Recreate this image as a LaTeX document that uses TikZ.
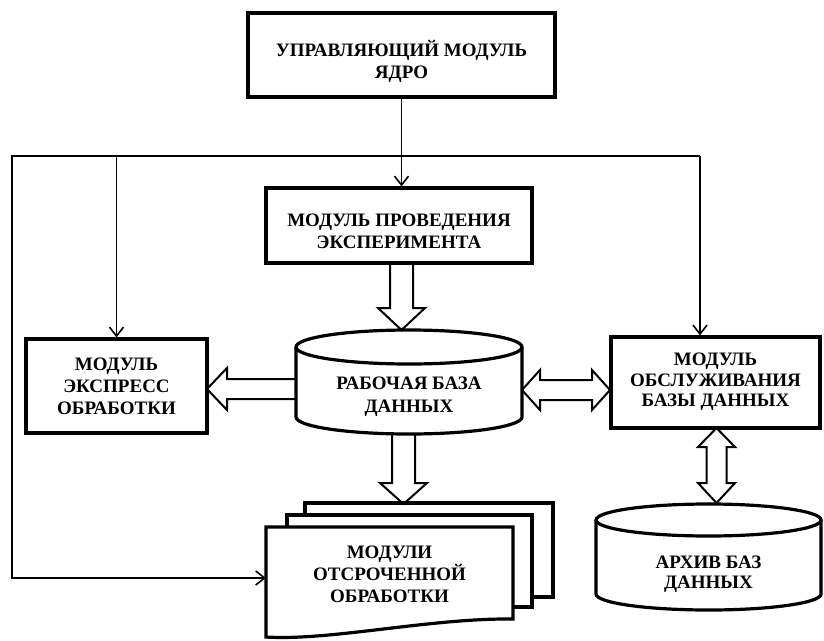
\documentclass[tikz,border=0pt]{standalone}
\usepackage{fontspec}
\setmainfont{Liberation Serif}
\usetikzlibrary{arrows.meta}
\begin{document}
\begin{tikzpicture}[x=1pt,y=1pt,
  box/.style={draw, line width=3.2pt, inner sep=0pt},
  heavy/.style={line width=3.2pt},
  area/.style={inner sep=0pt},
  txt/.style={align=center, inner sep=0pt,
    font=\fontsize{19}{22}\selectfont\bfseries},
  bus/.style={line width=1.6pt, line join=miter},
  conn/.style={bus, -{Straight Barb[length=9pt,width=14pt,line width=1.6pt]}},
  hollow/.style={draw, line width=2pt, line join=miter}
]
\useasboundingbox (0,0) rectangle (824,-640);

% --- rectangular modules
\node[box, minimum width=307pt, minimum height=84pt] (core) at (401.5,-55) {};
\node[txt] (core-t) at (401.5,-61) {УПРАВЛЯЮЩИЙ МОДУЛЬ\\ЯДРО};

\node[box, minimum width=266pt, minimum height=75pt] (exp) at (399,-225.5) {};
\node[txt] (exp-t) at (399,-231.5) {МОДУЛЬ ПРОВЕДЕНИЯ\\ЭКСПЕРИМЕНТА};

\node[box, minimum width=181pt, minimum height=94pt] (fast) at (116.5,-386) {};
\node[txt] (fast-t) at (116.5,-386) {МОДУЛЬ\\ЭКСПРЕСС\\ОБРАБОТКИ};

\node[box, minimum width=209pt, minimum height=91pt] (svc) at (715.5,-382.5) {};
\node[txt, font=\fontsize{19}{20.5}\selectfont\bfseries] (svc-t) at (715.5,-382)
  {МОДУЛЬ\\ОБСЛУЖИВАНИЯ\\БАЗЫ ДАННЫХ};

% --- working database (cylinder)
\draw[heavy, fill=white] (296,-347) -- (296,-417)
  arc[start angle=180, end angle=360, x radius=113, y radius=17] -- (522,-347);
\draw[heavy] (409,-347) ellipse [x radius=113, y radius=17];
\node[area, minimum width=226pt, minimum height=104pt] (work) at (409,-382) {};
\node[txt, font=\fontsize{19}{23}\selectfont\bfseries] (work-t) at (409,-396.5)
  {РАБОЧАЯ БАЗА\\ДАННЫХ};

% --- archive (cylinder)
\draw[heavy, fill=white] (596,-520) -- (596,-594)
  arc[start angle=180, end angle=360, x radius=112.5, y radius=16] -- (821,-520);
\draw[heavy] (708.5,-520) ellipse [x radius=112.5, y radius=16];
\node[area, minimum width=225pt, minimum height=106pt] (arch) at (708.5,-557) {};
\node[txt, font=\fontsize{19}{19.5}\selectfont\bfseries] (arch-t) at (708.5,-574)
  {АРХИВ БАЗ\\ДАННЫХ};

% --- stack of deferred-processing documents
\draw[heavy, fill=white] (305,-503) rectangle (553,-597);
\draw[heavy, fill=white] (287,-515) rectangle (532,-607);
\draw[heavy, fill=white] (266,-527) -- (513,-527) -- (513,-619)
  .. controls (430,-618) and (330,-641) .. (266,-637) -- cycle;
\node[area, minimum width=247pt, minimum height=92pt] (defer) at (389.5,-573) {};
\node[txt] (defer-t) at (389.5,-574) {МОДУЛИ\\ОТСРОЧЕННОЙ\\ОБРАБОТКИ};

% --- control bus
\coordinate (busL) at (12,-156);
\coordinate (busR) at (700,-156);
\coordinate (dIn) at (266,-578);
\draw[conn] (busR) -- (busL) -- (busL |- dIn) -- (dIn);
\draw[conn] (core.south) -- (core.south |- exp.north);
\draw[conn] (busR) -- (busR |- svc.north);
\draw[conn] (busL -| fast.north) -- (fast.north);

% --- data flow (hollow arrows)
\coordinate (wTip) at (401.5,-330);
\draw[hollow] (wTip) ++(-11.5,67) -- ++(0,-45) -- ++(-12,0) -- (wTip)
  -- ++(23.5,22) -- ++(-12,0) -- ++(0,45);

\coordinate (fTip) at (207,-389);
\draw[hollow] (fTip) ++(89,10) -- ++(-69,0) -- ++(0,11) -- (fTip)
  -- ++(20,-21) -- ++(0,11) -- ++(69,0);

\coordinate (cL) at (522,-390);
\coordinate (cR) at (610,-390);
\draw[hollow] (cL) -- ++(18,20) -- ++(0,-10) -- ++(52,0) -- ++(0,10) -- (cR)
  -- ++(-18,-20) -- ++(0,10) -- ++(-52,0) -- ++(0,-10) -- cycle;

\coordinate (dTip) at (403.5,-504);
\draw[hollow] (dTip) ++(-11.5,70) -- ++(0,-49) -- ++(-12,0) -- (dTip)
  -- ++(23.5,21) -- ++(-12,0) -- ++(0,49);

\coordinate (eT) at (716.5,-428);
\coordinate (eB) at (716.5,-503);
\draw[hollow] (eT) -- ++(18.5,-19) -- ++(-8.5,0) -- ++(0,-36) -- ++(8.5,0) -- (eB)
  -- ++(-18.5,20) -- ++(8.5,0) -- ++(0,36) -- ++(-8.5,0) -- cycle;
\end{tikzpicture}
\end{document}
